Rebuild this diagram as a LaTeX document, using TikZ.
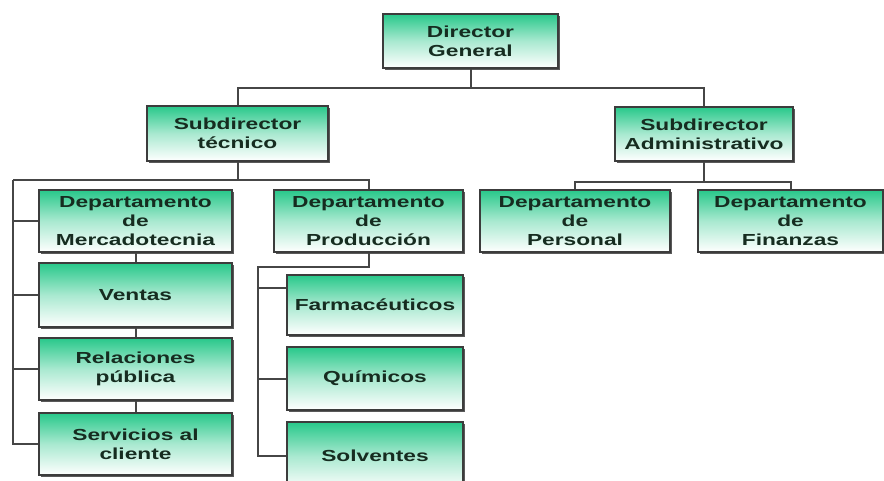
\documentclass[tikz,border=0pt]{standalone}
\usepackage{fontspec}
\newfontfamily\boxfont{Liberation Sans}[FakeStretch=1.42]
\usetikzlibrary{shadows}
\definecolor{boxgreen}{RGB}{40,200,138}
\definecolor{boxtext}{RGB}{22,44,32}
\definecolor{edgegray}{RGB}{60,60,60}
\definecolor{linegray}{RGB}{70,70,70}
\tikzset{
  unitbox/.style={draw=edgegray, line width=1.3pt, rectangle, inner sep=0pt,
    top color=boxgreen, bottom color=white, middle color=boxgreen!40!white,
    drop shadow={shadow xshift=2pt, shadow yshift=-2pt, fill=black!65, opacity=1},
    align=center, text=boxtext,
    font=\boxfont\bfseries\fontsize{16}{19}\selectfont},
  conn/.style={draw=linegray, line width=2pt}
}
\begin{document}
\begin{tikzpicture}[x=1pt,y=-1pt]
\useasboundingbox (0,0) rectangle (884,480);
\clip (0,0) rectangle (884,480);
\fill[white] (0,0) rectangle (884,480);

% top levels
\node[unitbox, minimum width=175pt, minimum height=54pt] (dg) at (470.5,41) {Director\\General};
\node[unitbox, minimum width=181pt, minimum height=55pt] (st) at (237.5,133.5) {Subdirector\\técnico};
\node[unitbox, minimum width=178pt, minimum height=54pt] (sa) at (704,134) {Subdirector\\Administrativo};

% marketing column
\node[unitbox, minimum width=193pt, minimum height=62pt] (dm) at (135.5,221) {Departamento\\de\\Mercadotecnia};
\node[unitbox, minimum width=193pt, minimum height=64pt] (ve) at (135.5,295) {Ventas};
\node[unitbox, minimum width=193pt, minimum height=62pt] (rp) at (135.5,369) {Relaciones\\pública};
\node[unitbox, minimum width=193pt, minimum height=62pt] (sc) at (135.5,444) {Servicios al\\cliente};

% production column
\node[unitbox, minimum width=189pt, minimum height=62pt] (dp) at (368.5,221) {Departamento\\de\\Producción};
\node[unitbox, minimum width=176pt, minimum height=60pt] (fa) at (375,305) {Farmacéuticos};
\node[unitbox, minimum width=176pt, minimum height=63pt] (qu) at (375,378.5) {Químicos};
\node[unitbox, minimum width=176pt, minimum height=68pt] (so) at (375,456) {Solventes};

% administration
\node[unitbox, minimum width=190pt, minimum height=62pt] (per) at (575,221) {Departamento\\de\\Personal};
\node[unitbox, minimum width=185pt, minimum height=62pt] (fin) at (790.5,221) {Departamento\\de\\Finanzas};

% director to deputies
\coordinate (j0) at (470.5,88);
\draw[conn] (dg.south) -- (j0);
\draw[conn] (st.north) |- (j0) -| (sa.north);

% technical deputy branch
\coordinate (j1) at (237.5,180);
\coordinate (lm) at (13,180);
\draw[conn] (st.south) -- (j1);
\draw[conn] (lm) -- (j1) -| (dp.north);
\draw[conn] (lm) |- (sc.west);
\draw[conn] (lm |- dm.west) -- (dm.west);
\draw[conn] (lm |- ve.west) -- (ve.west);
\draw[conn] (lm |- rp.west) -- (rp.west);
\draw[conn] (dm) -- (ve) -- (rp) -- (sc);

% production branch
\coordinate (j2) at (368.5,267);
\coordinate (lp) at (258,267);
\draw[conn] (dp.south) -- (j2) -- (lp) |- (so.west);
\draw[conn] (lp |- 0,288) -- (fa.west |- 0,288);
\draw[conn] (lp |- qu.west) -- (qu.west);

% administrative deputy branch
\coordinate (j3) at (704,182);
\draw[conn] (sa.south) -- (j3);
\draw[conn] (per.north) |- (j3) -| (fin.north);
\end{tikzpicture}
\end{document}
